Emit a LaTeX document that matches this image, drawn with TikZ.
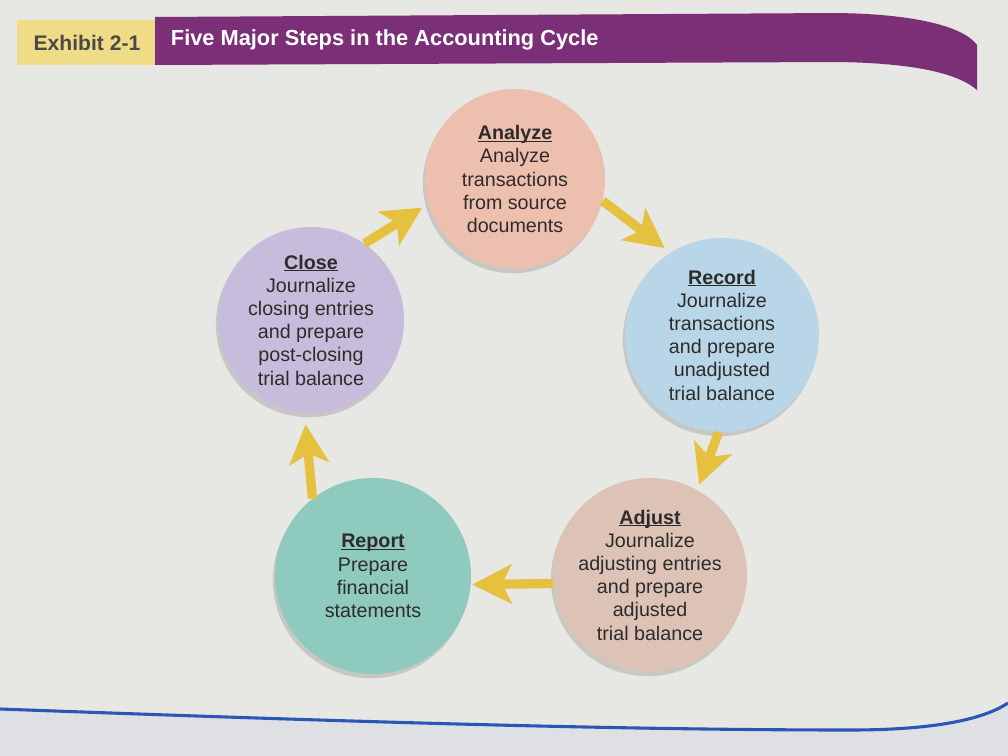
\documentclass[tikz,border=0pt]{standalone}
\usepackage{fontspec}
\setmainfont{Liberation Sans}
\usetikzlibrary{arrows.meta,shadows}
\definecolor{bg}{HTML}{E7E7E3}
\definecolor{bglow}{HTML}{DEE0E4}
\definecolor{hdrpurple}{HTML}{7A2F76}
\definecolor{hdryellow}{HTML}{F0DB86}
\definecolor{exhibittxt}{HTML}{4A4A48}
\definecolor{txt}{HTML}{2E2B2B}
\definecolor{arrowyel}{HTML}{E6C140}
\definecolor{analyzecol}{HTML}{EDBFAE}
\definecolor{recordcol}{HTML}{B9D6E8}
\definecolor{adjustcol}{HTML}{DCC3B5}
\definecolor{reportcol}{HTML}{8FCABF}
\definecolor{closecol}{HTML}{C7BCDC}
\definecolor{blueline}{HTML}{2B56B5}
\newcommand\myul[1]{\setbox0\hbox{\textbf{#1}}\rlap{\rule[-1.6pt]{\wd0}{0.8pt}}\box0}
\begin{document}
\begin{tikzpicture}[x=0.025cm,y=-0.025cm,
  stepcirc/.style={circle, draw=none, inner sep=0pt, align=center,
    font=\fontsize{14}{16.5}\selectfont, text=txt,
    drop shadow={shadow xshift=-1.5pt, shadow yshift=-3pt, opacity=0.3}},
  arr/.style={draw=arrowyel, line width=6.6pt,
    -{Stealth[length=28pt,width=28pt,inset=7pt]}}
]
\useasboundingbox (0,0) rectangle (1008,756);
% page
\fill[bg] (0,0) rectangle (1008,756);
\fill[bglow] (0,709) .. controls (300,720) and (600,730) .. (850,730)
  .. controls (950,730) and (990,715) .. (1008,703) -- (1008,756) -- (0,756) -- cycle;
\draw[blueline, line width=2.2pt] (0,709) .. controls (300,720) and (600,730) .. (850,730)
  .. controls (950,730) and (990,715) .. (1008,703);
% header
\fill[hdryellow] (17,20) rectangle (156,65);
\fill[hdrpurple] (155,17) -- (836,13) .. controls (920,14) and (965,28) .. (977,45)
  -- (977,90) .. controls (960,75) and (920,63) .. (836,62) -- (155,65) -- cycle;
\node[anchor=center, font=\bfseries\fontsize{15}{17}\selectfont, text=exhibittxt] (exhibit) at (87,43) {Exhibit 2-1};
\node[anchor=west, font=\bfseries\fontsize{15.5}{17}\selectfont, text=white] (title) at (166,40) {Five Major Steps in the Accounting Cycle};
% circles
\node[stepcirc, fill=analyzecol, minimum size=4.5cm] (analyze) at (515,179)
  {\myul{Analyze}\\Analyze\\transactions\\from source\\documents};
\node[stepcirc, fill=recordcol, minimum size=4.85cm] (record) at (722,335)
  {\myul{Record}\\Journalize\\transactions\\and prepare\\unadjusted\\trial balance};
\node[stepcirc, fill=adjustcol, minimum size=4.85cm] (adjust) at (650,575)
  {\myul{Adjust}\\Journalize\\adjusting entries\\and prepare\\adjusted\\trial balance};
\node[stepcirc, fill=reportcol, minimum size=4.9cm] (report) at (373,576)
  {\myul{Report}\\Prepare\\financial\\statements};
\node[stepcirc, fill=closecol, minimum size=4.65cm] (close) at (311,320)
  {\myul{Close}\\Journalize\\closing entries\\and prepare\\post-closing\\trial balance};
% arrows
\draw[arr, shorten >=5pt] (close.55) -- (analyze.196);
\draw[arr, shorten >=5pt] (analyze.-14) -- (record.122);
\draw[arr, shorten >=4pt] (record.-92) -- (adjust.61);
\draw[arr, shorten >=1pt] (adjust.185) -- (report.-5);
\draw[arr, shorten >=8pt] (report.128) -- (close.-94);
\end{tikzpicture}
\end{document}
